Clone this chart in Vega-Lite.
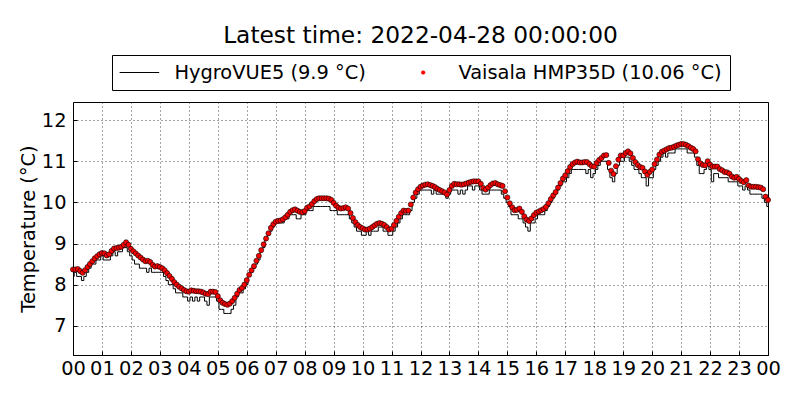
{
  "$schema": "https://vega.github.io/schema/vega-lite/v6.json",
  "width": 695,
  "height": 253,
  "autosize": "none",
  "padding": {"left": 73, "top": 102, "right": 32, "bottom": 45},
  "background": "white",
  "title": {
    "text": "Latest time: 2022-04-28 00:00:00",
    "font": "DejaVu Sans",
    "fontSize": 23.3,
    "fontWeight": "normal",
    "color": "black",
    "anchor": "middle",
    "offset": 6
  },
  "data": {
    "values": [
      {"time": "2022-04-27T00:00", "hygro": 8.2, "hmp": 8.37},
      {"time": "2022-04-27T00:05", "hygro": 8.3, "hmp": 8.37},
      {"time": "2022-04-27T00:10", "hygro": 8.2, "hmp": 8.38},
      {"time": "2022-04-27T00:15", "hygro": 8.2, "hmp": 8.33},
      {"time": "2022-04-27T00:20", "hygro": 8.1, "hmp": 8.29},
      {"time": "2022-04-27T00:25", "hygro": 8.2, "hmp": 8.35},
      {"time": "2022-04-27T00:30", "hygro": 8.3, "hmp": 8.43},
      {"time": "2022-04-27T00:35", "hygro": 8.4, "hmp": 8.50},
      {"time": "2022-04-27T00:40", "hygro": 8.5, "hmp": 8.57},
      {"time": "2022-04-27T00:45", "hygro": 8.5, "hmp": 8.64},
      {"time": "2022-04-27T00:50", "hygro": 8.6, "hmp": 8.69},
      {"time": "2022-04-27T00:55", "hygro": 8.6, "hmp": 8.74},
      {"time": "2022-04-27T01:00", "hygro": 8.7, "hmp": 8.77},
      {"time": "2022-04-27T01:05", "hygro": 8.6, "hmp": 8.76},
      {"time": "2022-04-27T01:10", "hygro": 8.6, "hmp": 8.71},
      {"time": "2022-04-27T01:15", "hygro": 8.6, "hmp": 8.74},
      {"time": "2022-04-27T01:20", "hygro": 8.7, "hmp": 8.82},
      {"time": "2022-04-27T01:25", "hygro": 8.8, "hmp": 8.88},
      {"time": "2022-04-27T01:30", "hygro": 8.7, "hmp": 8.89},
      {"time": "2022-04-27T01:35", "hygro": 8.8, "hmp": 8.90},
      {"time": "2022-04-27T01:40", "hygro": 8.8, "hmp": 8.92},
      {"time": "2022-04-27T01:45", "hygro": 8.9, "hmp": 8.97},
      {"time": "2022-04-27T01:50", "hygro": 8.9, "hmp": 9.03},
      {"time": "2022-04-27T01:55", "hygro": 8.8, "hmp": 8.97},
      {"time": "2022-04-27T02:00", "hygro": 8.7, "hmp": 8.87},
      {"time": "2022-04-27T02:05", "hygro": 8.6, "hmp": 8.81},
      {"time": "2022-04-27T02:10", "hygro": 8.5, "hmp": 8.76},
      {"time": "2022-04-27T02:15", "hygro": 8.5, "hmp": 8.71},
      {"time": "2022-04-27T02:20", "hygro": 8.4, "hmp": 8.66},
      {"time": "2022-04-27T02:25", "hygro": 8.4, "hmp": 8.61},
      {"time": "2022-04-27T02:30", "hygro": 8.4, "hmp": 8.57},
      {"time": "2022-04-27T02:35", "hygro": 8.3, "hmp": 8.58},
      {"time": "2022-04-27T02:40", "hygro": 8.4, "hmp": 8.55},
      {"time": "2022-04-27T02:45", "hygro": 8.3, "hmp": 8.48},
      {"time": "2022-04-27T02:50", "hygro": 8.3, "hmp": 8.44},
      {"time": "2022-04-27T02:55", "hygro": 8.3, "hmp": 8.45},
      {"time": "2022-04-27T03:00", "hygro": 8.3, "hmp": 8.43},
      {"time": "2022-04-27T03:05", "hygro": 8.3, "hmp": 8.40},
      {"time": "2022-04-27T03:10", "hygro": 8.2, "hmp": 8.35},
      {"time": "2022-04-27T03:15", "hygro": 8.1, "hmp": 8.28},
      {"time": "2022-04-27T03:20", "hygro": 8.0, "hmp": 8.21},
      {"time": "2022-04-27T03:25", "hygro": 8.0, "hmp": 8.14},
      {"time": "2022-04-27T03:30", "hygro": 7.9, "hmp": 8.06},
      {"time": "2022-04-27T03:35", "hygro": 7.8, "hmp": 8.00},
      {"time": "2022-04-27T03:40", "hygro": 7.8, "hmp": 7.95},
      {"time": "2022-04-27T03:45", "hygro": 7.8, "hmp": 7.91},
      {"time": "2022-04-27T03:50", "hygro": 7.7, "hmp": 7.87},
      {"time": "2022-04-27T03:55", "hygro": 7.7, "hmp": 7.84},
      {"time": "2022-04-27T04:00", "hygro": 7.6, "hmp": 7.83},
      {"time": "2022-04-27T04:05", "hygro": 7.7, "hmp": 7.86},
      {"time": "2022-04-27T04:10", "hygro": 7.6, "hmp": 7.85},
      {"time": "2022-04-27T04:15", "hygro": 7.7, "hmp": 7.84},
      {"time": "2022-04-27T04:20", "hygro": 7.6, "hmp": 7.84},
      {"time": "2022-04-27T04:25", "hygro": 7.7, "hmp": 7.83},
      {"time": "2022-04-27T04:30", "hygro": 7.7, "hmp": 7.81},
      {"time": "2022-04-27T04:35", "hygro": 7.6, "hmp": 7.78},
      {"time": "2022-04-27T04:40", "hygro": 7.5, "hmp": 7.77},
      {"time": "2022-04-27T04:45", "hygro": 7.7, "hmp": 7.83},
      {"time": "2022-04-27T04:50", "hygro": 7.7, "hmp": 7.83},
      {"time": "2022-04-27T04:55", "hygro": 7.7, "hmp": 7.82},
      {"time": "2022-04-27T05:00", "hygro": 7.6, "hmp": 7.72},
      {"time": "2022-04-27T05:05", "hygro": 7.4, "hmp": 7.62},
      {"time": "2022-04-27T05:10", "hygro": 7.4, "hmp": 7.56},
      {"time": "2022-04-27T05:15", "hygro": 7.3, "hmp": 7.53},
      {"time": "2022-04-27T05:20", "hygro": 7.3, "hmp": 7.51},
      {"time": "2022-04-27T05:25", "hygro": 7.3, "hmp": 7.54},
      {"time": "2022-04-27T05:30", "hygro": 7.4, "hmp": 7.60},
      {"time": "2022-04-27T05:35", "hygro": 7.5, "hmp": 7.68},
      {"time": "2022-04-27T05:40", "hygro": 7.7, "hmp": 7.78},
      {"time": "2022-04-27T05:45", "hygro": 7.8, "hmp": 7.87},
      {"time": "2022-04-27T05:50", "hygro": 7.8, "hmp": 7.92},
      {"time": "2022-04-27T05:55", "hygro": 7.9, "hmp": 8.00},
      {"time": "2022-04-27T06:00", "hygro": 8.0, "hmp": 8.11},
      {"time": "2022-04-27T06:05", "hygro": 8.2, "hmp": 8.24},
      {"time": "2022-04-27T06:10", "hygro": 8.3, "hmp": 8.35},
      {"time": "2022-04-27T06:15", "hygro": 8.4, "hmp": 8.45},
      {"time": "2022-04-27T06:20", "hygro": 8.5, "hmp": 8.58},
      {"time": "2022-04-27T06:25", "hygro": 8.6, "hmp": 8.70},
      {"time": "2022-04-27T06:30", "hygro": 8.8, "hmp": 8.84},
      {"time": "2022-04-27T06:35", "hygro": 8.9, "hmp": 8.98},
      {"time": "2022-04-27T06:40", "hygro": 9.1, "hmp": 9.12},
      {"time": "2022-04-27T06:45", "hygro": 9.2, "hmp": 9.25},
      {"time": "2022-04-27T06:50", "hygro": 9.3, "hmp": 9.38},
      {"time": "2022-04-27T06:55", "hygro": 9.4, "hmp": 9.47},
      {"time": "2022-04-27T07:00", "hygro": 9.5, "hmp": 9.53},
      {"time": "2022-04-27T07:05", "hygro": 9.5, "hmp": 9.55},
      {"time": "2022-04-27T07:10", "hygro": 9.5, "hmp": 9.56},
      {"time": "2022-04-27T07:15", "hygro": 9.5, "hmp": 9.59},
      {"time": "2022-04-27T07:20", "hygro": 9.6, "hmp": 9.64},
      {"time": "2022-04-27T07:25", "hygro": 9.6, "hmp": 9.70},
      {"time": "2022-04-27T07:30", "hygro": 9.7, "hmp": 9.77},
      {"time": "2022-04-27T07:35", "hygro": 9.7, "hmp": 9.81},
      {"time": "2022-04-27T07:40", "hygro": 9.7, "hmp": 9.83},
      {"time": "2022-04-27T07:45", "hygro": 9.6, "hmp": 9.80},
      {"time": "2022-04-27T07:50", "hygro": 9.6, "hmp": 9.77},
      {"time": "2022-04-27T07:55", "hygro": 9.7, "hmp": 9.76},
      {"time": "2022-04-27T08:00", "hygro": 9.7, "hmp": 9.79},
      {"time": "2022-04-27T08:05", "hygro": 9.8, "hmp": 9.87},
      {"time": "2022-04-27T08:10", "hygro": 9.8, "hmp": 9.90},
      {"time": "2022-04-27T08:15", "hygro": 9.8, "hmp": 9.96},
      {"time": "2022-04-27T08:20", "hygro": 9.9, "hmp": 10.03},
      {"time": "2022-04-27T08:25", "hygro": 9.9, "hmp": 10.08},
      {"time": "2022-04-27T08:30", "hygro": 9.9, "hmp": 10.10},
      {"time": "2022-04-27T08:35", "hygro": 9.9, "hmp": 10.10},
      {"time": "2022-04-27T08:40", "hygro": 9.9, "hmp": 10.10},
      {"time": "2022-04-27T08:45", "hygro": 9.9, "hmp": 10.10},
      {"time": "2022-04-27T08:50", "hygro": 9.9, "hmp": 10.09},
      {"time": "2022-04-27T08:55", "hygro": 9.8, "hmp": 10.06},
      {"time": "2022-04-27T09:00", "hygro": 9.8, "hmp": 9.99},
      {"time": "2022-04-27T09:05", "hygro": 9.8, "hmp": 9.92},
      {"time": "2022-04-27T09:10", "hygro": 9.7, "hmp": 9.87},
      {"time": "2022-04-27T09:15", "hygro": 9.7, "hmp": 9.85},
      {"time": "2022-04-27T09:20", "hygro": 9.7, "hmp": 9.86},
      {"time": "2022-04-27T09:25", "hygro": 9.7, "hmp": 9.88},
      {"time": "2022-04-27T09:30", "hygro": 9.7, "hmp": 9.85},
      {"time": "2022-04-27T09:35", "hygro": 9.6, "hmp": 9.74},
      {"time": "2022-04-27T09:40", "hygro": 9.5, "hmp": 9.62},
      {"time": "2022-04-27T09:45", "hygro": 9.4, "hmp": 9.52},
      {"time": "2022-04-27T09:50", "hygro": 9.3, "hmp": 9.45},
      {"time": "2022-04-27T09:55", "hygro": 9.3, "hmp": 9.40},
      {"time": "2022-04-27T10:00", "hygro": 9.2, "hmp": 9.37},
      {"time": "2022-04-27T10:05", "hygro": 9.2, "hmp": 9.34},
      {"time": "2022-04-27T10:10", "hygro": 9.3, "hmp": 9.34},
      {"time": "2022-04-27T10:15", "hygro": 9.2, "hmp": 9.36},
      {"time": "2022-04-27T10:20", "hygro": 9.3, "hmp": 9.40},
      {"time": "2022-04-27T10:25", "hygro": 9.3, "hmp": 9.44},
      {"time": "2022-04-27T10:30", "hygro": 9.3, "hmp": 9.48},
      {"time": "2022-04-27T10:35", "hygro": 9.4, "hmp": 9.50},
      {"time": "2022-04-27T10:40", "hygro": 9.4, "hmp": 9.48},
      {"time": "2022-04-27T10:45", "hygro": 9.3, "hmp": 9.45},
      {"time": "2022-04-27T10:50", "hygro": 9.3, "hmp": 9.40},
      {"time": "2022-04-27T10:55", "hygro": 9.2, "hmp": 9.34},
      {"time": "2022-04-27T11:00", "hygro": 9.2, "hmp": 9.36},
      {"time": "2022-04-27T11:05", "hygro": 9.3, "hmp": 9.45},
      {"time": "2022-04-27T11:10", "hygro": 9.4, "hmp": 9.55},
      {"time": "2022-04-27T11:15", "hygro": 9.5, "hmp": 9.65},
      {"time": "2022-04-27T11:20", "hygro": 9.6, "hmp": 9.74},
      {"time": "2022-04-27T11:25", "hygro": 9.7, "hmp": 9.80},
      {"time": "2022-04-27T11:30", "hygro": 9.7, "hmp": 9.79},
      {"time": "2022-04-27T11:35", "hygro": 9.7, "hmp": 9.80},
      {"time": "2022-04-27T11:40", "hygro": 9.8, "hmp": 9.95},
      {"time": "2022-04-27T11:45", "hygro": 10.0, "hmp": 10.12},
      {"time": "2022-04-27T11:50", "hygro": 10.1, "hmp": 10.24},
      {"time": "2022-04-27T11:55", "hygro": 10.2, "hmp": 10.32},
      {"time": "2022-04-27T12:00", "hygro": 10.3, "hmp": 10.38},
      {"time": "2022-04-27T12:05", "hygro": 10.3, "hmp": 10.41},
      {"time": "2022-04-27T12:10", "hygro": 10.3, "hmp": 10.43},
      {"time": "2022-04-27T12:15", "hygro": 10.3, "hmp": 10.44},
      {"time": "2022-04-27T12:20", "hygro": 10.3, "hmp": 10.42},
      {"time": "2022-04-27T12:25", "hygro": 10.2, "hmp": 10.40},
      {"time": "2022-04-27T12:30", "hygro": 10.3, "hmp": 10.37},
      {"time": "2022-04-27T12:35", "hygro": 10.2, "hmp": 10.33},
      {"time": "2022-04-27T12:40", "hygro": 10.2, "hmp": 10.30},
      {"time": "2022-04-27T12:45", "hygro": 10.2, "hmp": 10.27},
      {"time": "2022-04-27T12:50", "hygro": 10.2, "hmp": 10.24},
      {"time": "2022-04-27T12:55", "hygro": 10.1, "hmp": 10.19},
      {"time": "2022-04-27T13:00", "hygro": 10.2, "hmp": 10.30},
      {"time": "2022-04-27T13:05", "hygro": 10.3, "hmp": 10.40},
      {"time": "2022-04-27T13:10", "hygro": 10.3, "hmp": 10.45},
      {"time": "2022-04-27T13:15", "hygro": 10.3, "hmp": 10.44},
      {"time": "2022-04-27T13:20", "hygro": 10.2, "hmp": 10.44},
      {"time": "2022-04-27T13:25", "hygro": 10.3, "hmp": 10.43},
      {"time": "2022-04-27T13:30", "hygro": 10.2, "hmp": 10.44},
      {"time": "2022-04-27T13:35", "hygro": 10.3, "hmp": 10.46},
      {"time": "2022-04-27T13:40", "hygro": 10.4, "hmp": 10.48},
      {"time": "2022-04-27T13:45", "hygro": 10.4, "hmp": 10.50},
      {"time": "2022-04-27T13:50", "hygro": 10.3, "hmp": 10.51},
      {"time": "2022-04-27T13:55", "hygro": 10.4, "hmp": 10.51},
      {"time": "2022-04-27T14:00", "hygro": 10.4, "hmp": 10.51},
      {"time": "2022-04-27T14:05", "hygro": 10.3, "hmp": 10.45},
      {"time": "2022-04-27T14:10", "hygro": 10.2, "hmp": 10.35},
      {"time": "2022-04-27T14:15", "hygro": 10.2, "hmp": 10.31},
      {"time": "2022-04-27T14:20", "hygro": 10.2, "hmp": 10.36},
      {"time": "2022-04-27T14:25", "hygro": 10.3, "hmp": 10.42},
      {"time": "2022-04-27T14:30", "hygro": 10.3, "hmp": 10.46},
      {"time": "2022-04-27T14:35", "hygro": 10.3, "hmp": 10.47},
      {"time": "2022-04-27T14:40", "hygro": 10.3, "hmp": 10.44},
      {"time": "2022-04-27T14:45", "hygro": 10.3, "hmp": 10.42},
      {"time": "2022-04-27T14:50", "hygro": 10.2, "hmp": 10.40},
      {"time": "2022-04-27T14:55", "hygro": 10.1, "hmp": 10.27},
      {"time": "2022-04-27T15:00", "hygro": 10.0, "hmp": 10.12},
      {"time": "2022-04-27T15:05", "hygro": 9.9, "hmp": 9.98},
      {"time": "2022-04-27T15:10", "hygro": 9.7, "hmp": 9.88},
      {"time": "2022-04-27T15:15", "hygro": 9.7, "hmp": 9.81},
      {"time": "2022-04-27T15:20", "hygro": 9.7, "hmp": 9.82},
      {"time": "2022-04-27T15:25", "hygro": 9.6, "hmp": 9.85},
      {"time": "2022-04-27T15:30", "hygro": 9.6, "hmp": 9.77},
      {"time": "2022-04-27T15:35", "hygro": 9.5, "hmp": 9.66},
      {"time": "2022-04-27T15:40", "hygro": 9.4, "hmp": 9.58},
      {"time": "2022-04-27T15:45", "hygro": 9.3, "hmp": 9.55},
      {"time": "2022-04-27T15:50", "hygro": 9.5, "hmp": 9.61},
      {"time": "2022-04-27T15:55", "hygro": 9.5, "hmp": 9.69},
      {"time": "2022-04-27T16:00", "hygro": 9.6, "hmp": 9.75},
      {"time": "2022-04-27T16:05", "hygro": 9.7, "hmp": 9.78},
      {"time": "2022-04-27T16:10", "hygro": 9.7, "hmp": 9.81},
      {"time": "2022-04-27T16:15", "hygro": 9.7, "hmp": 9.84},
      {"time": "2022-04-27T16:20", "hygro": 9.8, "hmp": 9.89},
      {"time": "2022-04-27T16:25", "hygro": 9.9, "hmp": 9.98},
      {"time": "2022-04-27T16:30", "hygro": 10.0, "hmp": 10.08},
      {"time": "2022-04-27T16:35", "hygro": 10.1, "hmp": 10.17},
      {"time": "2022-04-27T16:40", "hygro": 10.2, "hmp": 10.25},
      {"time": "2022-04-27T16:45", "hygro": 10.3, "hmp": 10.36},
      {"time": "2022-04-27T16:50", "hygro": 10.4, "hmp": 10.47},
      {"time": "2022-04-27T16:55", "hygro": 10.5, "hmp": 10.58},
      {"time": "2022-04-27T17:00", "hygro": 10.5, "hmp": 10.66},
      {"time": "2022-04-27T17:05", "hygro": 10.6, "hmp": 10.76},
      {"time": "2022-04-27T17:10", "hygro": 10.7, "hmp": 10.86},
      {"time": "2022-04-27T17:15", "hygro": 10.8, "hmp": 10.93},
      {"time": "2022-04-27T17:20", "hygro": 10.8, "hmp": 10.97},
      {"time": "2022-04-27T17:25", "hygro": 10.8, "hmp": 10.99},
      {"time": "2022-04-27T17:30", "hygro": 10.8, "hmp": 10.97},
      {"time": "2022-04-27T17:35", "hygro": 10.8, "hmp": 10.97},
      {"time": "2022-04-27T17:40", "hygro": 10.8, "hmp": 10.98},
      {"time": "2022-04-27T17:45", "hygro": 10.7, "hmp": 10.98},
      {"time": "2022-04-27T17:50", "hygro": 10.8, "hmp": 10.93},
      {"time": "2022-04-27T17:55", "hygro": 10.6, "hmp": 10.88},
      {"time": "2022-04-27T18:00", "hygro": 10.7, "hmp": 10.87},
      {"time": "2022-04-27T18:05", "hygro": 10.8, "hmp": 10.96},
      {"time": "2022-04-27T18:10", "hygro": 10.9, "hmp": 11.03},
      {"time": "2022-04-27T18:15", "hygro": 11.0, "hmp": 11.08},
      {"time": "2022-04-27T18:20", "hygro": 11.0, "hmp": 11.14},
      {"time": "2022-04-27T18:25", "hygro": 11.0, "hmp": 11.15},
      {"time": "2022-04-27T18:30", "hygro": 10.8, "hmp": 10.96},
      {"time": "2022-04-27T18:35", "hygro": 10.6, "hmp": 10.77},
      {"time": "2022-04-27T18:40", "hygro": 10.5, "hmp": 10.69},
      {"time": "2022-04-27T18:45", "hygro": 10.7, "hmp": 10.88},
      {"time": "2022-04-27T18:50", "hygro": 10.9, "hmp": 11.04},
      {"time": "2022-04-27T18:55", "hygro": 11.0, "hmp": 11.14},
      {"time": "2022-04-27T19:00", "hygro": 11.0, "hmp": 11.14},
      {"time": "2022-04-27T19:05", "hygro": 11.1, "hmp": 11.20},
      {"time": "2022-04-27T19:10", "hygro": 11.1, "hmp": 11.24},
      {"time": "2022-04-27T19:15", "hygro": 11.0, "hmp": 11.19},
      {"time": "2022-04-27T19:20", "hygro": 10.9, "hmp": 11.08},
      {"time": "2022-04-27T19:25", "hygro": 10.8, "hmp": 10.98},
      {"time": "2022-04-27T19:30", "hygro": 10.8, "hmp": 10.91},
      {"time": "2022-04-27T19:35", "hygro": 10.7, "hmp": 10.86},
      {"time": "2022-04-27T19:40", "hygro": 10.6, "hmp": 10.84},
      {"time": "2022-04-27T19:45", "hygro": 10.6, "hmp": 10.75},
      {"time": "2022-04-27T19:50", "hygro": 10.4, "hmp": 10.67},
      {"time": "2022-04-27T19:55", "hygro": 10.6, "hmp": 10.74},
      {"time": "2022-04-27T20:00", "hygro": 10.6, "hmp": 10.80},
      {"time": "2022-04-27T20:05", "hygro": 10.8, "hmp": 10.93},
      {"time": "2022-04-27T20:10", "hygro": 10.9, "hmp": 11.04},
      {"time": "2022-04-27T20:15", "hygro": 11.0, "hmp": 11.16},
      {"time": "2022-04-27T20:20", "hygro": 11.1, "hmp": 11.23},
      {"time": "2022-04-27T20:25", "hygro": 11.2, "hmp": 11.26},
      {"time": "2022-04-27T20:30", "hygro": 11.1, "hmp": 11.29},
      {"time": "2022-04-27T20:35", "hygro": 11.2, "hmp": 11.32},
      {"time": "2022-04-27T20:40", "hygro": 11.2, "hmp": 11.33},
      {"time": "2022-04-27T20:45", "hygro": 11.2, "hmp": 11.35},
      {"time": "2022-04-27T20:50", "hygro": 11.3, "hmp": 11.38},
      {"time": "2022-04-27T20:55", "hygro": 11.3, "hmp": 11.40},
      {"time": "2022-04-27T21:00", "hygro": 11.3, "hmp": 11.42},
      {"time": "2022-04-27T21:05", "hygro": 11.3, "hmp": 11.42},
      {"time": "2022-04-27T21:10", "hygro": 11.3, "hmp": 11.40},
      {"time": "2022-04-27T21:15", "hygro": 11.2, "hmp": 11.37},
      {"time": "2022-04-27T21:20", "hygro": 11.2, "hmp": 11.33},
      {"time": "2022-04-27T21:25", "hygro": 11.2, "hmp": 11.30},
      {"time": "2022-04-27T21:30", "hygro": 11.1, "hmp": 11.24},
      {"time": "2022-04-27T21:35", "hygro": 10.9, "hmp": 11.05},
      {"time": "2022-04-27T21:40", "hygro": 10.7, "hmp": 10.95},
      {"time": "2022-04-27T21:45", "hygro": 10.7, "hmp": 10.91},
      {"time": "2022-04-27T21:50", "hygro": 10.8, "hmp": 10.90},
      {"time": "2022-04-27T21:55", "hygro": 10.9, "hmp": 11.00},
      {"time": "2022-04-27T22:00", "hygro": 10.8, "hmp": 10.92},
      {"time": "2022-04-27T22:05", "hygro": 10.5, "hmp": 10.87},
      {"time": "2022-04-27T22:10", "hygro": 10.7, "hmp": 10.87},
      {"time": "2022-04-27T22:15", "hygro": 10.7, "hmp": 10.87},
      {"time": "2022-04-27T22:20", "hygro": 10.6, "hmp": 10.81},
      {"time": "2022-04-27T22:25", "hygro": 10.6, "hmp": 10.78},
      {"time": "2022-04-27T22:30", "hygro": 10.6, "hmp": 10.74},
      {"time": "2022-04-27T22:35", "hygro": 10.6, "hmp": 10.73},
      {"time": "2022-04-27T22:40", "hygro": 10.5, "hmp": 10.70},
      {"time": "2022-04-27T22:45", "hygro": 10.5, "hmp": 10.63},
      {"time": "2022-04-27T22:50", "hygro": 10.5, "hmp": 10.60},
      {"time": "2022-04-27T22:55", "hygro": 10.5, "hmp": 10.62},
      {"time": "2022-04-27T23:00", "hygro": 10.4, "hmp": 10.57},
      {"time": "2022-04-27T23:05", "hygro": 10.4, "hmp": 10.52},
      {"time": "2022-04-27T23:10", "hygro": 10.3, "hmp": 10.49},
      {"time": "2022-04-27T23:15", "hygro": 10.4, "hmp": 10.54},
      {"time": "2022-04-27T23:20", "hygro": 10.3, "hmp": 10.41},
      {"time": "2022-04-27T23:25", "hygro": 10.2, "hmp": 10.38},
      {"time": "2022-04-27T23:30", "hygro": 10.2, "hmp": 10.38},
      {"time": "2022-04-27T23:35", "hygro": 10.2, "hmp": 10.38},
      {"time": "2022-04-27T23:40", "hygro": 10.2, "hmp": 10.37},
      {"time": "2022-04-27T23:45", "hygro": 10.2, "hmp": 10.36},
      {"time": "2022-04-27T23:50", "hygro": 10.1, "hmp": 10.32},
      {"time": "2022-04-27T23:55", "hygro": 10.0, "hmp": 10.14},
      {"time": "2022-04-28T00:00", "hygro": 9.9, "hmp": 10.06}
    ]
  },
  "encoding": {
    "x": {
      "field": "time",
      "type": "temporal",
      "scale": {
        "domain": [
          {"year": 2022, "month": 4, "date": 27, "hours": 0},
          {"year": 2022, "month": 4, "date": 28, "hours": 0}
        ],
        "nice": false
      },
      "axis": {
        "title": null,
        "format": "%H",
        "tickCount": 24,
        "labelOverlap": false,
        "labelFlush": false,
        "tickSize": -4,
        "labelPadding": 8
      }
    }
  },
  "layer": [
    {
      "mark": {"type": "line", "strokeWidth": 1, "interpolate": "step"},
      "encoding": {
        "y": {
          "field": "hygro",
          "type": "quantitative",
          "scale": {"domain": [6.29, 12.44], "nice": false, "zero": false},
          "axis": {
            "title": "Temperature (°C)",
            "values": [7, 8, 9, 10, 11, 12],
            "format": "d",
            "tickSize": -4,
            "labelPadding": 11,
            "titlePadding": 3
          }
        },
        "color": {
          "datum": "HygroVUE5 (9.9 °C)",
          "scale": {
            "domain": ["HygroVUE5 (9.9 °C)", "Vaisala HMP35D (10.06 °C)"],
            "range": ["black", "#ff0000"]
          },
          "legend": {
            "title": null,
            "orient": "none",
            "legendX": 39,
            "legendY": -47,
            "direction": "horizontal",
            "columns": 2,
            "encode": {
              "symbols": {
                "update": {
                  "shape": {"signal": "datum.index === 0 ? 'stroke' : 'circle'"},
                  "size": {"signal": "datum.index === 0 ? 1600 : 14"},
                  "fill": {"signal": "datum.index === 0 ? 'transparent' : '#ff0000'"},
                  "stroke": {"value": "black"},
                  "strokeWidth": {"signal": "datum.index === 0 ? 1 : 0.5"},
                  "opacity": {"value": 1}
                }
              }
            }
          }
        }
      }
    },
    {
      "mark": {"type": "point", "filled": true, "size": 26, "opacity": 1, "stroke": "black", "strokeWidth": 0.6},
      "encoding": {
        "y": {"field": "hmp", "type": "quantitative"},
        "color": {"datum": "Vaisala HMP35D (10.06 °C)"}
      }
    }
  ],
  "config": {
    "font": "DejaVu Sans",
    "view": {"stroke": "black", "strokeWidth": 1},
    "axis": {
      "labelFont": "DejaVu Sans",
      "labelFontSize": 19.4,
      "labelColor": "black",
      "titleFont": "DejaVu Sans",
      "titleFontSize": 19.4,
      "titleFontWeight": "normal",
      "titleColor": "black",
      "domain": false,
      "grid": true,
      "gridColor": "black",
      "gridOpacity": 0.9,
      "gridDash": [1, 3],
      "gridWidth": 0.8,
      "tickColor": "black"
    },
    "legend": {
      "labelFont": "DejaVu Sans",
      "labelFontSize": 19.4,
      "labelColor": "black",
      "labelLimit": 500,
      "symbolSize": 1600,
      "symbolType": "stroke",
      "symbolStrokeWidth": 1,
      "symbolOffset": 10,
      "labelOffset": 25.5,
      "clipHeight": 20,
      "columnPadding": 37,
      "padding": 7.5,
      "strokeColor": "black",
      "fillColor": "white"
    }
  }
}
